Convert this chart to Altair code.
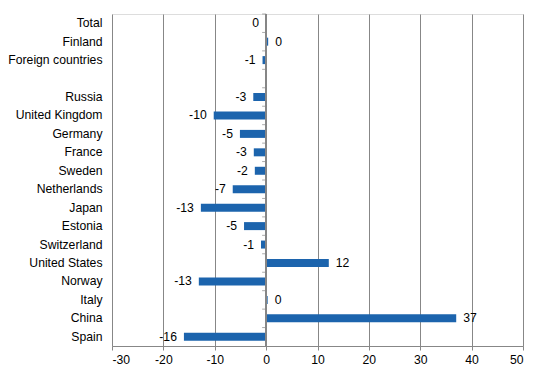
import altair as alt
import pandas as pd

categories = ["Total", "Finland", "Foreign countries", " ", "Russia", "United Kingdom",
              "Germany", "France", "Sweden", "Netherlands", "Japan", "Estonia",
              "Switzerland", "United States", "Norway", "Italy", "China", "Spain"]
values = [0.0, 0.4, -0.7, None, -2.5, -10.2, -5.1, -2.4, -2.2, -6.5, -12.7, -4.3,
          -1.0, 12.2, -13.1, 0.3, 37.0, -16.0]
labels = ["0", "0", "-1", "", "-3", "-10", "-5", "-3", "-2", "-7", "-13", "-5",
          "-1", "12", "-13", "0", "37", "-16"]
x_ticks = [-30, -20, -10, 0, 10, 20, 30, 40, 50]

df = pd.DataFrame({"cat": categories, "value": values, "label": labels})

FONT = "Liberation Sans"
FS = 12.2
GRID = "#878787"
BAR = "#1c64ad"

xscale = alt.Scale(domain=[-30, 50], nice=False, zero=False)
yscale = alt.Scale(domain=categories, paddingInner=0, paddingOuter=0)

x_enc = alt.X("value:Q", scale=xscale,
              axis=alt.Axis(values=x_ticks, title=None, grid=True, gridColor=GRID,
                            gridWidth=1, domainColor=GRID, tickColor=GRID, tickSize=4,
                            labelPadding=3, labelColor="black", labelFontSize=FS,
                            labelFont=FONT,
                            labelExpr="datum.value < 0 ? '-' + abs(datum.value) : '' + datum.value"))
y_enc = alt.Y("cat:N", sort=categories, scale=yscale,
              axis=alt.Axis(title=None, domain=False, ticks=False, grid=False,
                            labelPadding=10, labelColor="black", labelFontSize=FS,
                            labelFont=FONT))

base = alt.Chart(df)

bars = base.transform_filter("datum.value != null").mark_bar(size=8, color=BAR).encode(
    x=x_enc, y=y_enc
)

zero_line = base.mark_rule(color=GRID, strokeWidth=1).encode(x=alt.datum(0))

ticks = base.mark_tick(orient="horizontal", size=4, thickness=1, color=GRID, xOffset=-2).encode(
    x=alt.datum(0),
    y=alt.Y("cat:N", sort=categories, bandPosition=0),
)

neg_text = base.transform_filter("datum.value != null && datum.value <= 0").mark_text(
    align="right", baseline="middle", dx=-7, fontSize=FS, font=FONT, color="black"
).encode(x="value:Q", y=alt.Y("cat:N", sort=categories), text="label:N")

pos_text = base.transform_filter("datum.value != null && datum.value > 0").mark_text(
    align="left", baseline="middle", dx=7, fontSize=FS, font=FONT, color="black"
).encode(x="value:Q", y=alt.Y("cat:N", sort=categories), text="label:N")

chart = alt.layer(bars, zero_line, ticks, neg_text, pos_text).properties(
    width=411, height=332,
    autosize=alt.AutoSizeParams(type="none"),
    padding={"left": 112, "top": 14, "right": 23, "bottom": 30},
).configure_view(stroke=None).configure(background="white")

chart.save("out.html", embed_options={"renderer": "svg", "actions": False})
